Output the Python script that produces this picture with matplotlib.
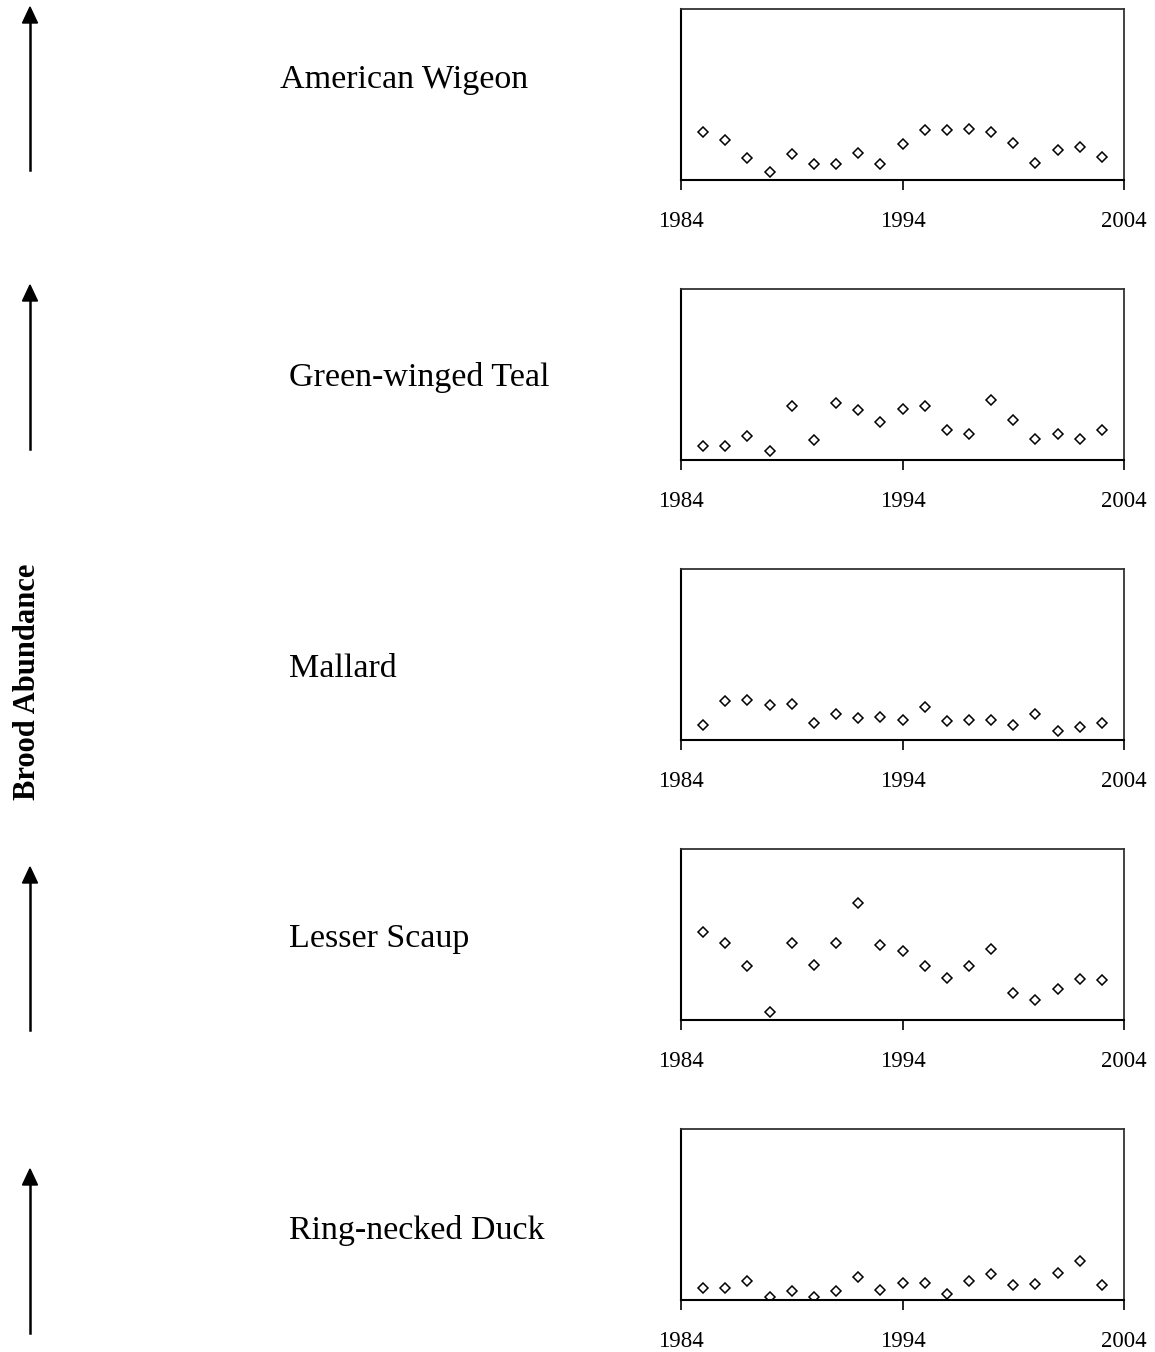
import matplotlib.pyplot as plt

W, H = 1155, 1352
DPI = 100

years = list(range(1985, 2004))

species = [
    "American Wigeon",
    "Green-winged Teal",
    "Mallard",
    "Lesser Scaup",
    "Ring-necked Duck",
]

# brood abundance (arbitrary units)
american_wigeon = [48, 40, 22, 8, 26, 16, 16, 27, 16, 36, 50, 50, 51, 48, 37, 17, 30, 33, 23]
green_winged_teal = [14, 14, 24, 9, 54, 20, 57, 50, 38, 51, 54, 30, 26, 60, 40, 21, 26, 21, 30]
mallard = [15, 39, 40, 35, 36, 17, 26, 22, 23, 20, 33, 19, 20, 20, 15, 26, 9, 13, 17]
lesser_scaup = [89, 77, 54, 8, 77, 55, 77, 118, 75, 69, 54, 42, 54, 71, 27, 20, 31, 41, 40]
ring_necked_duck = [12, 12, 19, 3, 9, 3, 9, 23, 10, 17, 17, 6, 19, 26, 15, 16, 27, 39, 15]

series = [american_wigeon, green_winged_teal, mallard, lesser_scaup, ring_necked_duck]

x_ticks = [1984, 1994, 2004]
y_max = 172

SERIF = ["Liberation Serif", "DejaVu Serif"]

fig = plt.figure(figsize=(W / DPI, H / DPI), dpi=DPI)


def px_box(left, top, width, height):
    return [left / W, 1 - (top + height) / H, width / W, height / H]


ax_tops = [9, 289, 569, 849, 1129]
label_pos = [(280, 80), (289, 378), (289, 669), (289, 939), (289, 1230)]
arrows = [(170, 7), (449, 285), (1030, 867), (1333, 1169)]

for i, (name, values) in enumerate(zip(species, series)):
    ax = fig.add_axes(px_box(681, ax_tops[i], 443, 171))
    ax.plot(years, values, linestyle="none", marker="D", markersize=5.5,
            markerfacecolor="white", markeredgecolor="black", markeredgewidth=1.1)
    ax.set_xlim(1984, 2004)
    ax.set_ylim(0, y_max)
    ax.set_xticks(x_ticks)
    ax.set_xticklabels([str(t) for t in x_ticks], family=SERIF, fontsize=16.5)
    ax.set_yticks([])
    ax.tick_params(axis="x", direction="out", length=7, width=1.2, pad=15)
    for side in ["left", "bottom"]:
        ax.spines[side].set_linewidth(1.5)
        ax.spines[side].set_color("black")
    for side in ["top", "right"]:
        ax.spines[side].set_linewidth(1.3)
        ax.spines[side].set_color("#333333")

    lx, ly = label_pos[i]
    fig.text(lx / W, 1 - ly / H, name, family=SERIF, fontsize=24.5,
             ha="left", va="center")

for y0, y1 in arrows:
    fig.add_artist(plt.Line2D([30 / W, 30 / W], [1 - y0 / H, 1 - (y1 + 14) / H],
                              color="black", lw=1.8))
    fig.patches.append(plt.Polygon(
        [[22.5 / W, 1 - (y1 + 16) / H], [37.5 / W, 1 - (y1 + 16) / H], [30 / W, 1 - y1 / H]],
        closed=True, color="black", transform=fig.transFigure, figure=fig))

fig.text(28 / W, 1 - 682 / H, "Brood Abundance", family=SERIF, fontsize=22,
         fontweight="bold", rotation=90, ha="center", va="center")

fig.savefig("out.png", dpi=DPI)
